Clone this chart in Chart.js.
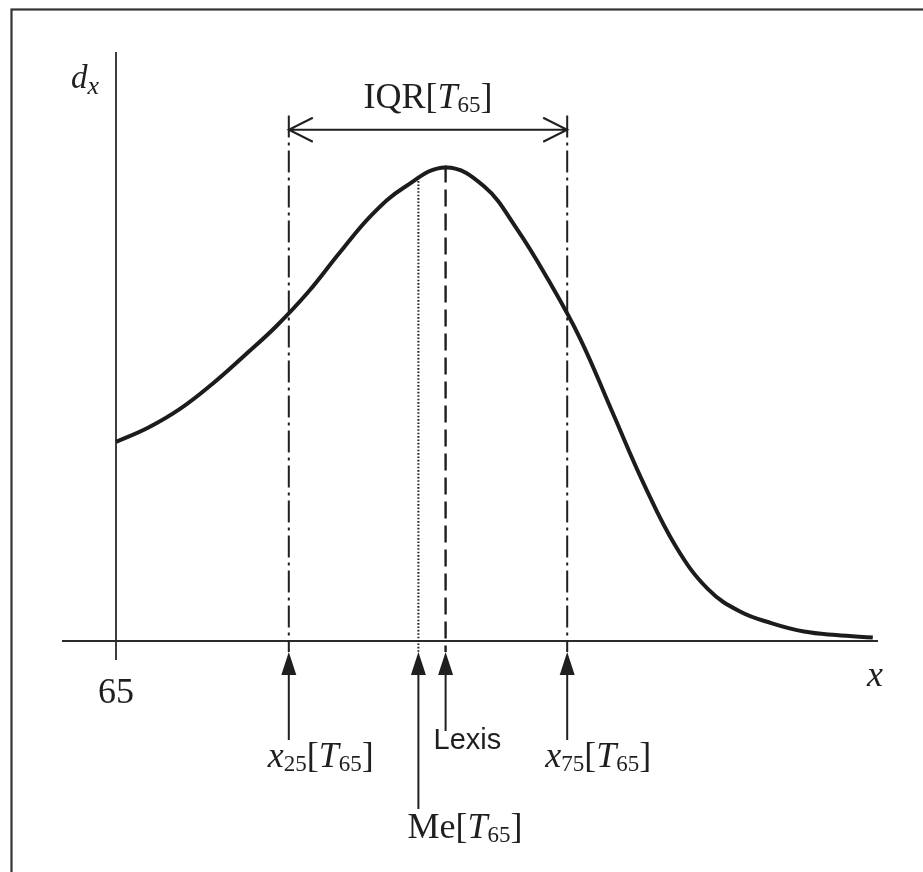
<!DOCTYPE html>
<html>
<head>
<meta charset="utf-8">
<title>d(x) distribution of T65</title>
<script src="https://cdn.jsdelivr.net/npm/chart.js@4/dist/chart.umd.min.js"></script>
<style>
  html, body { margin: 0; padding: 0; background: #ffffff; }
  canvas { display: block; }
</style>
</head>
<body>
<canvas id="chart" width="923" height="872"></canvas>
<script>
// Age at which remaining lifetime is measured (origin of the x axis)
const originAge = 65;
const originTickLabel = '65';

// Distribution of deaths d(x) above age 65
const ages = [65, 67, 69, 71, 73, 75, 77, 79, 81, 83,
              85.6, 88, 90, 92, 94, 96, 98, 100, 102, 104,
              106, 108, 110, 112.3];
const deaths = [1.69, 1.81, 1.97, 2.18, 2.42, 2.67, 2.96, 3.30, 3.62, 3.85,
                4.02, 3.86, 3.51, 3.07, 2.57, 1.95, 1.33, 0.80, 0.44, 0.25,
                0.15, 0.08, 0.05, 0.03];

// Summary measures marked on the age axis
const markerKeys = ['x25', 'Me', 'Lexis', 'x75'];
const markerAges = [75.8, 83.9, 85.6, 93.2];

// Level (in d(x) units) of the interquartile range bracket
const iqrLevel = 4.34;
const quartileLineTop = 4.46;

const SERIF = '"Liberation Serif", "Times New Roman", serif';
const SANS = '"Liberation Sans", Arial, sans-serif';
const INK = '#1f1f1f';

function fontReg(s) { return s + 'px ' + SERIF; }
function fontIt(s) { return 'italic ' + s + 'px ' + SERIF; }

// Draw a run of text pieces (with sub-scripts) starting at x, or centred on x
function drawRich(ctx, x, y, runs, align) {
  let total = 0;
  runs.forEach(r => { ctx.font = r.f; total += ctx.measureText(r.t).width; });
  let cx = align === 'center' ? x - total / 2 : x;
  ctx.textAlign = 'left';
  ctx.textBaseline = 'alphabetic';
  runs.forEach(r => {
    ctx.font = r.f;
    ctx.fillText(r.t, cx, y + (r.dy || 0));
    cx += ctx.measureText(r.t).width;
  });
}

// Height of the curve at a given age (along the drawn spline)
function curvePixelAt(chart, age) {
  const pts = chart.getDatasetMeta(0).data;
  const target = chart.scales.x.getPixelForValue(age);
  for (let i = 0; i < pts.length - 1; i++) {
    const a = pts[i], b = pts[i + 1];
    if (target >= a.x && target <= b.x) {
      let best = a.y, bestD = Infinity;
      for (let s = 0; s <= 200; s++) {
        const t = s / 200, u = 1 - t;
        const bx = u*u*u*a.x + 3*u*u*t*a.cp2x + 3*u*t*t*b.cp1x + t*t*t*b.x;
        const by = u*u*u*a.y + 3*u*u*t*a.cp2y + 3*u*t*t*b.cp1y + t*t*t*b.y;
        const d = Math.abs(bx - target);
        if (d < bestD) { bestD = d; best = by; }
      }
      return best;
    }
  }
  return chart.scales.y.getPixelForValue(0);
}

function vline(ctx, x, y0, y1, dash, width) {
  ctx.save();
  ctx.beginPath();
  ctx.setLineDash(dash);
  ctx.lineWidth = width;
  ctx.strokeStyle = INK;
  ctx.moveTo(x, y0);
  ctx.lineTo(x, y1);
  ctx.stroke();
  ctx.restore();
}

function upArrow(ctx, x, tipY, length) {
  ctx.save();
  ctx.fillStyle = INK;
  ctx.strokeStyle = INK;
  ctx.lineWidth = 2;
  ctx.beginPath();
  ctx.moveTo(x, tipY + 20);
  ctx.lineTo(x, tipY + length);
  ctx.stroke();
  ctx.beginPath();
  ctx.moveTo(x, tipY);
  ctx.lineTo(x - 7.5, tipY + 23);
  ctx.lineTo(x + 7.5, tipY + 23);
  ctx.closePath();
  ctx.fill();
  ctx.restore();
}

const diagramPlugin = {
  id: 'diagram',
  beforeDatasetsDraw(chart) {
    const ctx = chart.ctx;
    const xs = chart.scales.x, ys = chart.scales.y;
    const area = chart.chartArea;
    const x0 = xs.getPixelForValue(originAge);
    const yAxis = ys.getPixelForValue(0);

    ctx.save();
    // frame
    ctx.strokeStyle = '#333333';
    ctx.lineWidth = 2.2;
    ctx.strokeRect(11.5, 9.5, 1000, 1000);

    // axes
    ctx.lineWidth = 1.8;
    ctx.strokeStyle = '#2a2a2a';
    ctx.beginPath();
    ctx.moveTo(x0, area.top);
    ctx.lineTo(x0, yAxis + 19);
    ctx.moveTo(area.left, yAxis);
    ctx.lineTo(area.right, yAxis);
    ctx.stroke();
    ctx.restore();

    // reference lines for the summary measures
    markerKeys.forEach((k, i) => {
      const px = xs.getPixelForValue(markerAges[i]);
      if (k === 'x25' || k === 'x75') {
        vline(ctx, px, ys.getPixelForValue(quartileLineTop), yAxis + 11, [22, 5, 3, 5], 2);
      } else if (k === 'Me') {
        vline(ctx, px, curvePixelAt(chart, markerAges[i]), yAxis + 11, [1.6, 1.8], 2);
      } else {
        vline(ctx, px, curvePixelAt(chart, markerAges[i]) - 2, yAxis + 11, [17, 7], 2.4);
      }
    });
  },
  afterDatasetsDraw(chart) {
    const ctx = chart.ctx;
    const xs = chart.scales.x, ys = chart.scales.y;
    const yAxis = ys.getPixelForValue(0);
    const x0 = xs.getPixelForValue(originAge);
    const p = {};
    markerKeys.forEach((k, i) => { p[k] = xs.getPixelForValue(markerAges[i]); });

    ctx.save();
    ctx.fillStyle = INK;

    // IQR double arrow
    const iy = ys.getPixelForValue(iqrLevel);
    ctx.strokeStyle = INK;
    ctx.lineWidth = 2;
    ctx.beginPath();
    ctx.moveTo(p.x25, iy); ctx.lineTo(p.x75, iy);
    ctx.moveTo(p.x25 + 24, iy - 12); ctx.lineTo(p.x25, iy); ctx.lineTo(p.x25 + 24, iy + 12);
    ctx.moveTo(p.x75 - 24, iy - 12); ctx.lineTo(p.x75, iy); ctx.lineTo(p.x75 - 24, iy + 12);
    ctx.stroke();
    drawRich(ctx, (p.x25 + p.x75) / 2, iy - 22, [
      { t: 'IQR[', f: fontReg(36) },
      { t: 'T', f: fontIt(36) },
      { t: '65', f: fontReg(23), dy: 4 },
      { t: ']', f: fontReg(36) }
    ], 'center');

    // arrows below the age axis
    upArrow(ctx, p.x25, yAxis + 11, 88);
    upArrow(ctx, p.Me, yAxis + 11, 157);
    upArrow(ctx, p.Lexis, yAxis + 11, 79);
    upArrow(ctx, p.x75, yAxis + 11, 88);

    drawRich(ctx, p.x25 - 21, yAxis + 126, [
      { t: 'x', f: fontIt(36) },
      { t: '25', f: fontReg(23), dy: 4 },
      { t: '[', f: fontReg(36) },
      { t: 'T', f: fontIt(36) },
      { t: '65', f: fontReg(23), dy: 4 },
      { t: ']', f: fontReg(36) }
    ]);
    drawRich(ctx, p.x75 - 22, yAxis + 126, [
      { t: 'x', f: fontIt(36) },
      { t: '75', f: fontReg(23), dy: 4 },
      { t: '[', f: fontReg(36) },
      { t: 'T', f: fontIt(36) },
      { t: '65', f: fontReg(23), dy: 4 },
      { t: ']', f: fontReg(36) }
    ]);
    drawRich(ctx, p.Me - 11, yAxis + 197, [
      { t: 'Me[', f: fontReg(36) },
      { t: 'T', f: fontIt(36) },
      { t: '65', f: fontReg(23), dy: 4 },
      { t: ']', f: fontReg(36) }
    ]);
    ctx.font = '29px ' + SANS;
    ctx.textAlign = 'left';
    ctx.fillText('Lexis', p.Lexis - 12, yAxis + 108);

    // axis labels
    drawRich(ctx, x0, yAxis + 62, [{ t: originTickLabel, f: fontReg(36) }], 'center');
    drawRich(ctx, chart.chartArea.right - 11, yAxis + 45, [{ t: 'x', f: fontIt(36) }]);
    drawRich(ctx, x0 - 45, chart.chartArea.top + 36, [
      { t: 'd', f: fontIt(33) },
      { t: 'x', f: fontIt(26), dy: 6 }
    ]);
    ctx.restore();
  }
};

new Chart(document.getElementById('chart'), {
  type: 'line',
  data: {
    datasets: [{
      data: ages.map((a, i) => ({ x: a, y: deaths[i] })),
      borderColor: '#1c1c1c',
      borderWidth: 4,
      pointRadius: 0,
      fill: false,
      tension: 0.4,
      clip: false
    }]
  },
  options: {
    responsive: false,
    animation: false,
    events: [],
    layout: { padding: { left: 62, right: 45, top: 52, bottom: 231 } },
    plugins: { legend: { display: false }, tooltip: { enabled: false } },
    scales: {
      x: { type: 'linear', min: 61.625, max: 112.625, display: false },
      y: { type: 'linear', min: 0, max: 5, display: false }
    }
  },
  plugins: [diagramPlugin]
});
</script>
</body>
</html>
